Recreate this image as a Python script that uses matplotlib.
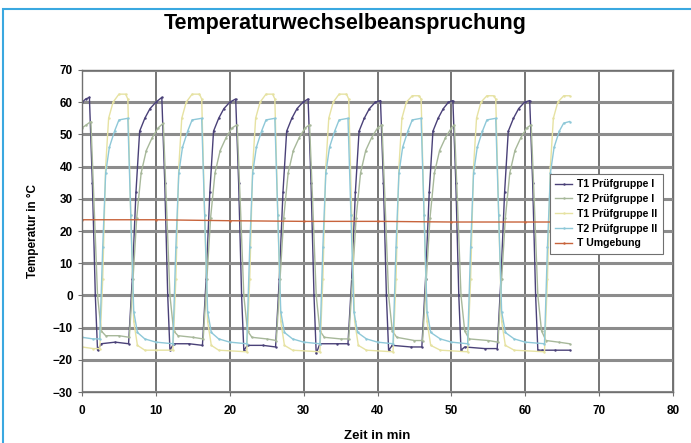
import matplotlib.pyplot as plt
from matplotlib.patches import Rectangle

t_t1_g1 = [0, 0.5, 1.0, 1.4, 1.8, 2.1, 2.6, 4.5, 6.3,
           6.8, 7.3, 7.8, 8.5, 9.2, 10.0, 10.8, 11.2, 11.6, 11.9, 12.4, 14.5, 16.3,
           16.8, 17.3, 17.8, 18.5, 19.2, 20.0, 20.8, 21.2, 21.6, 21.9, 22.4, 24.5, 26.2,
           26.7, 27.2, 27.7, 28.4, 29.1, 29.9, 30.6, 31.0, 31.4, 31.7, 32.2, 34.5, 36.0,
           36.5, 37.0, 37.5, 38.2, 38.9, 39.7, 40.4, 40.8, 41.2, 41.5, 42.0, 44.5, 46.0,
           46.5, 47.0, 47.5, 48.2, 48.9, 49.6, 50.2, 50.6, 51.0, 51.3, 51.8, 54.5, 56.2,
           56.7, 57.2, 57.7, 58.4, 59.1, 59.9, 60.6, 61.0, 61.4, 61.7, 62.2, 64.0, 66.0]
v_t1_g1 = [60, 61, 61.5, 35, 0, -17, -15, -14.5, -15,
           5, 32, 51, 55, 58, 60, 61.5, 35, 0, -17, -15, -15, -15.5,
           5, 32, 51, 55, 58, 60, 61, 35, 0, -17, -15.5, -15.5, -16,
           5, 32, 51, 55, 58, 60, 61, 35, 0, -18, -15, -15, -15,
           5, 32, 51, 55, 58, 60, 60.5, 35, 0, -17, -15.5, -16, -16,
           5, 32, 51, 55, 58, 60, 60.5, 35, 0, -17, -16, -16.5, -16.5,
           5, 32, 51, 55, 58, 60, 60.5, 35, 0, -17, -17, -17, -17]

t_t2_g1 = [0, 0.6, 1.2, 1.6, 2.1, 2.6, 3.2, 5.0, 6.4,
           6.9, 7.4, 8.0, 8.7, 9.5, 10.3, 11.0, 11.4, 11.9, 12.4, 13.0, 15.0, 16.4,
           16.9, 17.4, 18.0, 18.7, 19.5, 20.3, 21.0, 21.4, 21.9, 22.4, 23.0, 25.0, 26.3,
           26.8, 27.3, 27.9, 28.6, 29.4, 30.2, 30.8, 31.2, 31.7, 32.2, 32.8, 35.0, 36.1,
           36.6, 37.1, 37.7, 38.4, 39.2, 40.0, 40.6, 41.0, 41.5, 42.0, 42.6, 45.0, 46.1,
           46.6, 47.1, 47.7, 48.4, 49.2, 50.0, 50.4, 50.8, 51.3, 51.8, 52.4, 55.0, 56.3,
           56.8, 57.3, 57.9, 58.6, 59.4, 60.2, 60.8, 61.2, 61.7, 62.2, 62.8, 64.5, 66.0]
v_t2_g1 = [52, 53, 54, 30, 0, -11, -12.5, -12.5, -13,
           5, 24, 38, 45, 49, 52, 53.5, 30, 0, -11, -12.5, -13, -13.5,
           5, 24, 38, 45, 49, 52, 53, 30, 0, -11, -13, -13.5, -14,
           5, 24, 38, 45, 49, 52, 53, 30, 0, -11, -13, -13.5, -13.5,
           5, 24, 38, 45, 49, 52, 53, 30, 0, -11, -13, -14, -14,
           5, 24, 38, 45, 49, 52, 53, 30, 0, -11, -13.5, -14, -14.5,
           5, 24, 38, 45, 49, 52, 53, 30, 0, -11, -14, -14.5, -15]

t_t1_g2 = [0, 1.5, 2.4, 2.8, 3.2, 3.6, 4.2, 5.0, 5.9, 6.2,
           6.6, 7.0, 7.5, 8.5, 10.0, 12.3, 12.7, 13.1, 13.5, 14.1, 14.9, 15.9, 16.2,
           16.6, 17.0, 17.5, 18.5, 22.3, 22.7, 23.1, 23.5, 24.1, 24.9, 25.8, 26.1,
           26.5, 26.9, 27.4, 28.5, 32.2, 32.6, 33.0, 33.4, 34.0, 34.8, 35.8, 36.1,
           36.5, 36.9, 37.4, 38.5, 42.1, 42.5, 42.9, 43.3, 43.9, 44.7, 45.6, 45.9,
           46.3, 46.7, 47.2, 48.5, 52.2, 52.6, 53.0, 53.4, 54.0, 54.8, 55.7, 56.0,
           56.4, 56.8, 57.3, 58.5, 62.6, 63.0, 63.4, 63.8, 64.4, 65.2, 66.0]
v_t1_g2 = [-16, -16.5, -16.5, 5, 40, 55, 60, 62.5, 62.5, 61,
           25, -8, -15.5, -17, -17, -17, 5, 40, 55, 60, 62.5, 62.5, 61,
           25, -8, -15.5, -17, -17.5, 5, 40, 55, 60, 62.5, 62.5, 61,
           25, -8, -15.5, -17, -17.5, 5, 40, 55, 60, 62.5, 62.5, 61,
           25, -8, -15.5, -17, -17.5, 5, 40, 55, 60, 62, 62, 61,
           25, -8, -15.5, -17, -17.5, 5, 40, 55, 60, 62, 62, 61,
           25, -8, -15.5, -17, -17.5, 5, 40, 55, 60, 62, 62]

t_t2_g2 = [0, 1.5, 2.4, 2.8, 3.2, 3.7, 4.4, 5.0, 6.2,
           6.6, 7.0, 7.5, 8.5, 10.0, 12.3, 12.7, 13.1, 13.6, 14.3, 14.9, 16.2,
           16.6, 17.0, 17.5, 18.5, 20.0, 22.3, 22.7, 23.1, 23.6, 24.3, 24.9, 26.1,
           26.5, 26.9, 27.4, 28.5, 30.0, 32.2, 32.6, 33.0, 33.5, 34.2, 34.8, 36.0,
           36.4, 36.8, 37.3, 38.5, 40.0, 42.1, 42.5, 42.9, 43.4, 44.1, 44.7, 45.9,
           46.3, 46.7, 47.2, 48.5, 50.0, 52.2, 52.6, 53.0, 53.5, 54.2, 54.8, 56.0,
           56.4, 56.8, 57.3, 58.5, 60.0, 62.6, 63.0, 63.4, 63.9, 64.6, 65.2, 66.0]
v_t2_g2 = [-13, -13.5, -13.5, 15, 38, 46, 51, 54.5, 55,
           25, -5, -11.5, -13.5, -14.5, -15, 15, 38, 46, 51, 54.5, 55,
           25, -5, -11.5, -13.5, -14.5, -15, 15, 38, 46, 51, 54.5, 55,
           25, -5, -11.5, -13.5, -14.5, -15, 15, 38, 46, 51, 54.5, 55,
           25, -5, -11.5, -13.5, -14.5, -15, 15, 38, 46, 51, 54.5, 55,
           25, -5, -11.5, -13.5, -14.5, -15, 15, 38, 46, 51, 54.5, 55,
           25, -5, -11.5, -13.5, -14.5, -15, 15, 38, 46, 51, 53.5, 54]

t_umg = [0, 10, 20, 30, 40, 50, 60, 66]
v_umg = [23.5, 23.5, 23.2, 23.0, 23.0, 22.8, 22.8, 22.8]

series = [
    ("T1 Prüfgruppe I", t_t1_g1, v_t1_g1, "#4a4178"),
    ("T2 Prüfgruppe I", t_t2_g1, v_t2_g1, "#a7b89a"),
    ("T1 Prüfgruppe II", t_t1_g2, v_t1_g2, "#e6e2a2"),
    ("T2 Prüfgruppe II", t_t2_g2, v_t2_g2, "#8ec8d8"),
    ("T Umgebung", t_umg, v_umg, "#c8643c"),
]

plt.rcParams['font.family'] = ['Liberation Sans', 'DejaVu Sans']
plt.rcParams['font.weight'] = 'bold'

fig = plt.figure(figsize=(6.91, 4.43), dpi=100)
ax = fig.add_axes([0.1187, 0.115, 0.974 - 0.1187, 0.842 - 0.115])

for name, t, v, c in series:
    ax.plot(t, v, color=c, lw=1.0, marker='.', markersize=1.5, label=name)

ax.set_xlim(0, 80)
ax.set_ylim(-30, 70)
ax.set_xticks(range(0, 81, 10))
ax.set_yticks(range(-30, 71, 10))
ax.grid(axis='y', color='#8c8c8c', lw=2.2)
ax.grid(axis='x', color='#505050', lw=1.1)
ax.set_axisbelow(True)
for s in ax.spines.values():
    s.set_color('#707070')
    s.set_linewidth(1.0)
ax.tick_params(labelsize=8.5, length=3, color='#707070')
ax.tick_params(axis='x', pad=6)
for lab in ax.get_xticklabels() + ax.get_yticklabels():
    lab.set_fontweight('bold')

ax.set_xlabel("Zeit in min", fontsize=9.5, fontweight='bold', labelpad=10)
ax.set_ylabel("Temperatur in °C", fontsize=8.5, fontweight='bold', labelpad=10)
fig.text(0.5, 1 - 23 / 443, "Temperaturwechselbeanspruchung", ha='center', va='center',
         fontsize=15.5, fontweight='bold')

leg = ax.legend(loc='upper left', bbox_to_anchor=(550 / 691, 1 - 174 / 443),
                bbox_transform=fig.transFigure, borderaxespad=0,
                prop={'weight': 'bold', 'size': 7.6}, fancybox=False,
                edgecolor='#707070', framealpha=1, handlelength=1.6,
                handletextpad=0.5, labelspacing=0.45, borderpad=0.5)
leg.get_frame().set_linewidth(0.8)

# blauer Rahmen
fig.patches.append(Rectangle((3 / 691, -0.1), 1.2, 1.1 - 9 / 443, transform=fig.transFigure,
                             fill=False, edgecolor='#3aa8e0', lw=1.5))

plt.savefig("out.png", dpi=100)
